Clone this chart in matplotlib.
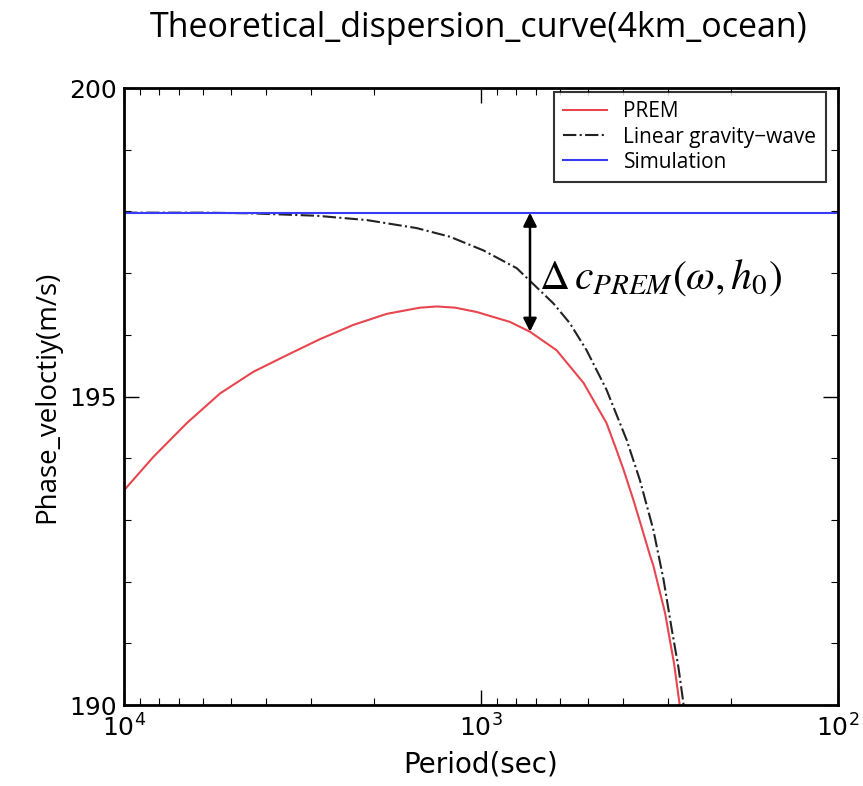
import matplotlib
matplotlib.use('Agg')
import matplotlib.pyplot as plt
from matplotlib.ticker import LogLocator, MultipleLocator, LogFormatterSciNotation

# dispersion curves, period (s) vs phase velocity (m/s)
prem_period = [10000, 8280, 6668, 5383, 4345, 3499, 2825, 2280, 1837, 1483, 1330,
               1180, 1028, 830, 729, 614, 516, 445, 417, 399, 374, 359, 336, 329,
               305, 288, 278, 270]
prem_vel = [193.48, 194.02, 194.57, 195.05, 195.40, 195.67, 195.93, 196.16, 196.34,
            196.44, 196.46, 196.44, 196.37, 196.21, 196.05, 195.75, 195.22, 194.57,
            194.13, 193.82, 193.32, 192.98, 192.42, 192.26, 191.49, 190.68, 190.03,
            189.4]

grav_period = [10000, 6000, 4436, 2884, 2089, 1514, 1222, 986, 794, 627, 564, 506,
               445, 391, 359, 329, 308, 292, 280, 271, 265]
grav_vel = [197.98, 197.98, 197.97, 197.93, 197.86, 197.73, 197.59, 197.37, 197.08,
            196.51, 196.19, 195.75, 195.11, 194.30, 193.65, 192.84, 192.03, 191.22,
            190.62, 190.03, 189.5]

sim_period = [10000, 100]
sim_vel = [197.98, 197.98]

# gap between simulation and PREM marked at this period
arrow_period = 729
arrow_top = 197.98
arrow_bottom = 196.05

plt.rcParams['font.family'] = ['DejaVu Sans']
plt.rcParams['mathtext.fontset'] = 'stix'
label_font = ['Open Sans', 'DejaVu Sans']

fig = plt.figure(figsize=(8.63, 7.86), dpi=100)
ax = fig.add_axes([0.1437, 0.103, 0.8273, 0.785])

ax.plot(prem_period, prem_vel, color='#e8464f', lw=1.5, label='PREM')
ax.plot(grav_period, grav_vel, color='#222222', lw=1.5, ls='-.', label='Linear gravity\u2212wave')
ax.plot(sim_period, sim_vel, color='#3b3bf5', lw=1.5, label='Simulation')

ax.annotate('', xy=(arrow_period, arrow_bottom), xytext=(arrow_period, arrow_top),
            arrowprops=dict(arrowstyle='<|-|>', color='black', lw=1.8,
                            mutation_scale=20, shrinkA=0, shrinkB=0))
ax.text(690, 196.93, r'$\Delta\,c_{PREM}(\omega,h_0)$', fontsize=30,
        ha='left', va='center')

ax.set_xscale('log')
ax.set_xlim(10000, 100)
ax.set_ylim(190, 200)
ax.xaxis.set_major_locator(LogLocator(base=10, numticks=5))
ax.xaxis.set_minor_locator(LogLocator(base=10, subs=range(2, 10), numticks=20))
ax.xaxis.set_major_formatter(LogFormatterSciNotation())
ax.yaxis.set_major_locator(MultipleLocator(5))
ax.yaxis.set_minor_locator(MultipleLocator(1))

ax.tick_params(which='both', direction='in', top=True, right=True, labelsize=18)
ax.tick_params(which='major', length=11, width=1)
ax.tick_params(which='minor', length=5, width=0.8)
ax.tick_params(axis='y', pad=5)
ax.tick_params(axis='x', pad=7)
for s in ax.spines.values():
    s.set_linewidth(2)

ax.set_xlabel('Period(sec)', fontsize=20, labelpad=6)
ax.set_ylabel('Phase_veloctiy(m/s)', fontsize=20, family=label_font, labelpad=6)
fig.text(0.555, 0.965, 'Theoretical_dispersion_curve(4km_ocean)', fontsize=24.5,
         ha='center', va='center', family=label_font)

leg = ax.legend(loc='upper right', handlelength=2.1, frameon=True,
                fancybox=False, borderpad=0.45, labelspacing=0.2, borderaxespad=0,
                prop={'family': label_font, 'size': 15},
                bbox_to_anchor=(0.983, 0.9935))
leg.get_frame().set_edgecolor('black')
leg.get_frame().set_linewidth(1.5)

fig.savefig('out.png', dpi=100)
